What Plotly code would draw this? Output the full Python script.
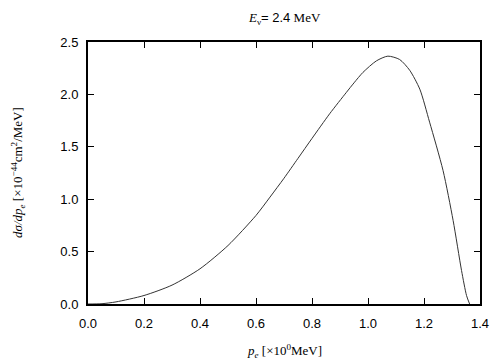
import plotly.graph_objects as go

# Data
p_e = [0.0, 0.05, 0.1, 0.2, 0.3, 0.4, 0.5, 0.6, 0.65, 0.7, 0.75, 0.8, 0.863,
       0.923, 0.95, 0.982, 1.03, 1.071, 1.113, 1.149, 1.185, 1.22, 1.268,
       1.304, 1.334, 1.352, 1.363]
dsigma = [0.0, 0.003, 0.02, 0.081, 0.18, 0.336, 0.558, 0.845, 1.02, 1.2, 1.39,
          1.58, 1.815, 2.02, 2.11, 2.21, 2.32, 2.365, 2.333, 2.23, 2.05, 1.735,
          1.274, 0.797, 0.32, 0.08, 0.0]

x_ticks = [0.0, 0.2, 0.4, 0.6, 0.8, 1.0, 1.2, 1.4]
y_ticks = [0.0, 0.5, 1.0, 1.5, 2.0, 2.5]

SANS = "Liberation Sans, Arial, sans-serif"
SERIF = "Liberation Serif, Times New Roman, serif"

fig = go.Figure()
fig.add_trace(go.Scatter(x=p_e, y=dsigma, mode="lines",
                         line=dict(color="#333333", width=1, shape="spline", smoothing=0.7),
                         showlegend=False, hoverinfo="skip"))

axis_common = dict(showline=True, linecolor="black", linewidth=2, mirror="ticks",
                   ticks="inside", ticklen=6, tickwidth=1, tickcolor="black",
                   showgrid=False, zeroline=False,
                   tickfont=dict(family=SANS, size=13, color="black"))

fig.update_xaxes(range=[0, 1.4], tickvals=x_ticks, tickformat=".1f",
                 ticklabelstandoff=6, **axis_common)
fig.update_yaxes(range=[0, 2.5], tickvals=y_ticks, tickformat=".1f",
                 ticklabelstandoff=5, **axis_common)

# page body has an 8px margin, so the figure is sized and offset to compensate
fig.update_layout(
    width=496, height=352,
    margin=dict(l=80, r=24, t=34, b=56),
    plot_bgcolor="white", paper_bgcolor="white",
    annotations=[
        dict(text="<i>E</i><sub>ν</sub><span style=\"font-family:Liberation Sans\">= 2.4</span> MeV",
             xref="paper", yref="paper", x=0.5, y=1, yshift=24,
             xanchor="center", yanchor="middle", showarrow=False,
             font=dict(family=SERIF, size=13, color="black")),
        dict(text="<i>dσ/dp<sub>e</sub></i> [×10<sup>−44</sup>cm<sup>2</sup>/MeV]",
             xref="paper", yref="paper", x=0, y=0.5, xshift=-70,
             xanchor="center", yanchor="middle", textangle=-90, showarrow=False,
             font=dict(family=SERIF, size=13, color="black")),
        dict(text="<i>p<sub>e</sub></i> [×10<sup>0</sup>MeV]",
             xref="paper", yref="paper", x=0.5, y=0, yshift=-47,
             xanchor="center", yanchor="middle", showarrow=False,
             font=dict(family=SERIF, size=13, color="black")),
    ],
)

fig.write_html("out.html")
